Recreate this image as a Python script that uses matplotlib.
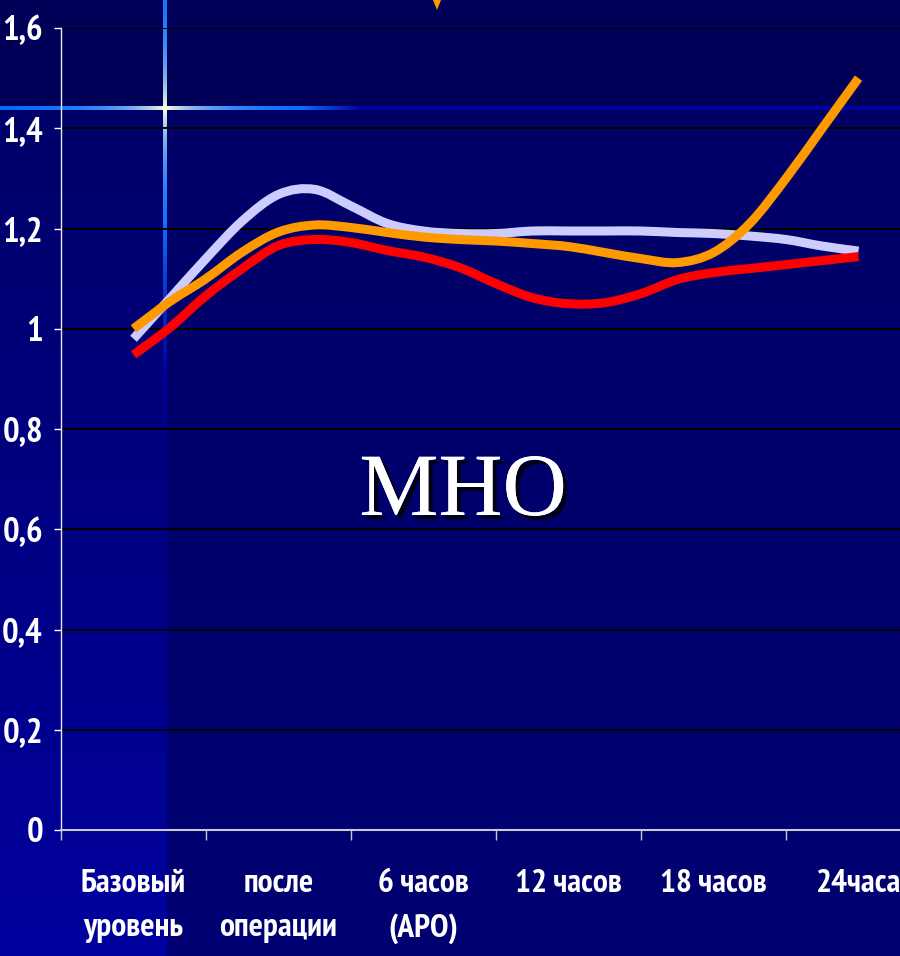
import numpy as np
import matplotlib
matplotlib.use('Agg')
import matplotlib.pyplot as plt
from matplotlib import patheffects
from matplotlib.patches import Polygon, PathPatch
from matplotlib.path import Path

plt.rcParams['font.family'] = ['PT Sans Narrow', 'Roboto Condensed', 'Sofia Sans Condensed',
                               'Archivo Narrow', 'DejaVu Sans']

# Данные: МНО по точкам наблюдения (с шагом в четверть интервала)
categories = ['Базовый\nуровень', 'после\nоперации', '6 часов\n(АРО)',
              '12 часов', '18 часов', '24часа']
positions = np.arange(21) / 4

lavender = [0.98, 1.06, 1.14, 1.215, 1.268, 1.278, 1.245, 1.21, 1.195, 1.19, 1.19,
            1.195, 1.195, 1.195, 1.195, 1.192, 1.19, 1.185, 1.178, 1.165, 1.155]
orange = [1.0, 1.054, 1.10, 1.153, 1.193, 1.207, 1.202, 1.192, 1.183, 1.178, 1.175,
          1.17, 1.164, 1.152, 1.14, 1.132, 1.152, 1.21, 1.30, 1.40, 1.50]
red = [0.948, 1.002, 1.066, 1.12, 1.166, 1.178, 1.172, 1.156, 1.143, 1.122, 1.09,
       1.062, 1.05, 1.052, 1.07, 1.098, 1.112, 1.12, 1.128, 1.136, 1.144]

yticks = [0, 0.2, 0.4, 0.6, 0.8, 1.0, 1.2, 1.4, 1.6]
ytick_labels = ['0', '0,2', '0,4', '0,6', '0,8', '1', '1,2', '1,4', '1,6']


def smooth_path(x, y):
    """Сглаженная линия как в Excel: кубические кривые Безье через все точки."""
    pts = np.column_stack([x, y])
    ext = np.vstack([pts[0], pts, pts[-1]])
    verts = [pts[0]]
    codes = [Path.MOVETO]
    for i in range(len(pts) - 1):
        p0, p1, p2, p3 = ext[i], ext[i + 1], ext[i + 2], ext[i + 3]
        verts += [p1 + (p2 - p0) / 6, p2 - (p3 - p1) / 6, p2]
        codes += [Path.CURVE4] * 3
    return Path(verts, codes)


W, H = 900, 956
fig = plt.figure(figsize=(W / 100, H / 100), dpi=100)

# Фон слайда: тёмно-синий, светлая полоса слева и блик-крестик
rows = np.arange(H)[:, None].astype(float)
cols = np.arange(W)[None, :].astype(float)
bg = np.zeros((H, W, 3))
blue = 0.40 + 0.05 * rows / H + 0 * cols
blue[:107, :] = 0.35
strip = (cols < 165) & (rows >= 107)
blue = np.where(strip, 0.41 + 0.21 * (rows - 107) / (H - 107), blue)
bg[..., 2] = blue

star = np.array([1.0, 1.0, 0.85])
light = np.array([0.0, 0.4, 1.0])
dark = np.array([0.0, 0.0, 0.62])

# горизонтальный луч
dx = np.abs(np.arange(W) - 165.0)
t = np.exp(-dx / 45.0)[:, None]
k = np.clip((np.arange(W) - 300.0) / 60.0, 0, 1)[:, None]
base = light * (1 - k) + dark * k
hline = star * t + base * (1 - t)
bg[106:110, :, :] = hline[None, :, :]

# вертикальный луч
dy = np.arange(H) - 108.0
t = np.exp(-np.abs(dy) / 45.0)[:, None]
k = np.clip((dy - 110.0) / 150.0, 0, 1)[:, None]
base = light * (1 - k) + dark * k
fade = np.clip((dy - 260.0) / 80.0, 0, 1)[:, None]
vcol = star * t + base * (1 - t)
left_col = bg[:, 160, :]
vcol = vcol * (1 - fade) + left_col * fade
for c in range(163, 167):
    bg[:, c, :] = vcol
bg[106:110, 163:167, :] = star

bg_ax = fig.add_axes([0, 0, 1, 1])
bg_ax.imshow(bg, aspect='auto', interpolation='nearest')
bg_ax.set_axis_off()

# кусочек стрелки у верхнего края
fig.patches.append(Polygon([(433 / W, 1), (441 / W, 1), (437 / W, 1 - 10 / H)],
                           closed=True, transform=fig.transFigure,
                           facecolor='#ff9900', edgecolor='none', zorder=3))

ax = fig.add_axes([61 / W, 126 / H, 870 / W, 802 / H])
ax.patch.set_alpha(0)
ax.set_xlim(-0.5, 5.5)
ax.set_ylim(0, 1.6)

ax.set_yticks(yticks)
ax.set_yticklabels(ytick_labels, fontweight='bold')
ax.yaxis.grid(True, color='black', linewidth=1.4)
ax.set_axisbelow(True)

ax.set_xticks(range(len(categories)))
ax.set_xticklabels(categories, linespacing=1.6, fontweight='bold')
ax.set_xticks(np.arange(-0.5, 6, 1), minor=True)

ax.tick_params(axis='x', which='major', length=0, pad=28, labelsize=24,
               labelcolor='white')
ax.tick_params(axis='x', which='minor', length=7, color='#c8c8d8', width=1)
ax.tick_params(axis='y', length=5, color='white', width=1, pad=8,
               labelsize=25, labelcolor='white')

for side in ('top', 'right'):
    ax.spines[side].set_visible(False)
ax.spines['left'].set_color('#e8e8f0')
ax.spines['left'].set_linewidth(1)
ax.spines['bottom'].set_color('#c8c8d8')
ax.spines['bottom'].set_linewidth(1.5)

for values, color in ((lavender, '#ccccff'), (red, '#ff0000'), (orange, '#ff9900')):
    ax.add_patch(PathPatch(smooth_path(positions, values), fill=False,
                           edgecolor=color, linewidth=6.5, capstyle='butt',
                           joinstyle='round'))

fig.text(463 / W, 1 - 515 / H, 'МНО', family='Liberation Serif', fontsize=64,
         color='white', ha='center', va='baseline',
         path_effects=[patheffects.withSimplePatchShadow(offset=(3, -3),
                                                         shadow_rgbFace='black',
                                                         alpha=0.8),
                       patheffects.Normal()])

fig.savefig('out.png', dpi=100)
